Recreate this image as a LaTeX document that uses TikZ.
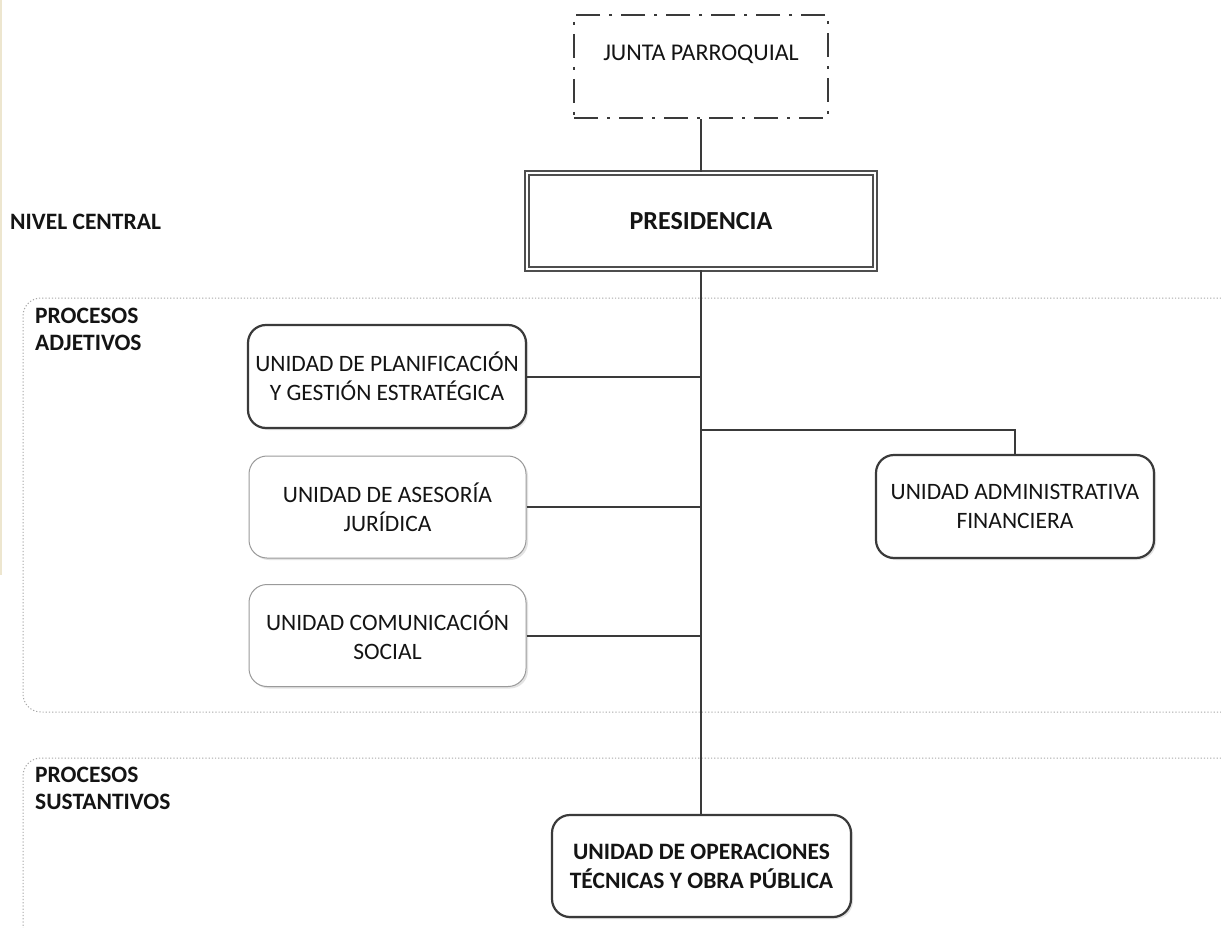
\documentclass[tikz,border=0pt]{standalone}
\usepackage{fontspec}
\setmainfont{Carlito}
\usetikzlibrary{shadows}
\definecolor{linegray}{HTML}{3A3A3A}
\definecolor{lightborder}{HTML}{9A9A9A}
\definecolor{dotgray}{HTML}{A8A8A8}
\definecolor{txt}{HTML}{141414}
\definecolor{edgecream}{HTML}{EDE6CF}
\tikzset{
  boxtext/.style={font=\fontsize{23.5}{29}\selectfont, text=txt, align=center},
  boldtext/.style={font=\fontsize{23.5}{29}\selectfont\bfseries, text=txt, align=center},
  softshadow/.style={drop shadow={shadow xshift=2pt, shadow yshift=-2pt, opacity=0.18, fill=black!60}},
  darkround/.style={boxtext, draw=linegray, line width=2.2pt, rounded corners=18pt, fill=white, softshadow, minimum width=278pt, minimum height=103pt, inner sep=0pt},
  lightround/.style={boxtext, draw=lightborder, line width=1pt, rounded corners=18pt, fill=white, softshadow, minimum width=277pt, minimum height=102pt, inner sep=0pt},
  conn/.style={draw=linegray, line width=2pt},
  region/.style={draw=dotgray, line width=1pt, dash pattern=on 1.2pt off 2pt, rounded corners=18pt},
  sidelabel/.style={font=\fontsize{23.5}{27}\selectfont\bfseries, text=txt, align=left, inner sep=0pt}
}
\begin{document}
\begin{tikzpicture}[x=1pt,y=-1pt]
\useasboundingbox[fill=white] (0,0) rectangle (1221,928);
% faint page edge
\draw[draw=edgecream, line width=2pt] (1,0) -- (1,575);
% dotted process regions
\draw[region] (1221,298) -- (23,298) -- (23,712) -- (1221,712);
\draw[region] (1221,758) -- (23,758) -- (23,940);
% side labels
\node[sidelabel, anchor=west] (nivel) at (10,222) {NIVEL CENTRAL};
\node[sidelabel, anchor=west] (adj) at (35,329) {PROCESOS\\ADJETIVOS};
\node[sidelabel, anchor=west] (sus) at (35,788) {PROCESOS\\SUSTANTIVOS};
% boxes
\node[font=\fontsize{24}{29}\selectfont, text=txt, draw=linegray, line width=2.5pt,
      dash pattern=on 24pt off 9pt on 3pt off 9pt, fill=white,
      minimum width=254pt, minimum height=103pt, inner sep=0pt,
      text height=17pt, text depth=28pt] (junta) at (701,66.5) {JUNTA PARROQUIAL};
\node[font=\fontsize{26}{30}\selectfont\bfseries, text=txt, draw=linegray!90, line width=2.2pt,
      double=white, double distance=1.6pt, fill=white, softshadow,
      minimum width=348pt, minimum height=96pt, inner sep=0pt] (pres) at (701,221) {PRESIDENCIA};
\node[darkround] (plan) at (387,376.5) {UNIDAD DE PLANIFICACIÓN\\Y GESTIÓN ESTRATÉGICA};
\node[lightround] (ases) at (387.5,507) {UNIDAD DE ASESORÍA\\JURÍDICA};
\node[lightround] (comu) at (387.5,635.5) {UNIDAD COMUNICACIÓN\\SOCIAL};
\node[darkround] (admin) at (1015,506.5) {UNIDAD ADMINISTRATIVA\\FINANCIERA};
\node[darkround, boldtext, minimum width=299pt, minimum height=102pt] (oper) at (701.5,866) {UNIDAD DE OPERACIONES\\TÉCNICAS Y OBRA PÚBLICA};
% connectors
\draw[conn] (junta.south) -- (pres.north);
\draw[conn] (pres.south) -- (pres.south |- oper.north);
\draw[conn] (plan.east) -- (plan.east -| pres.south);
\draw[conn] (ases.east) -- (ases.east -| pres.south);
\draw[conn] (comu.east) -- (comu.east -| pres.south);
\coordinate (abranch) at (701,430);
\draw[conn] (abranch) -- (abranch -| admin.north) -- (admin.north);
\end{tikzpicture}
\end{document}
